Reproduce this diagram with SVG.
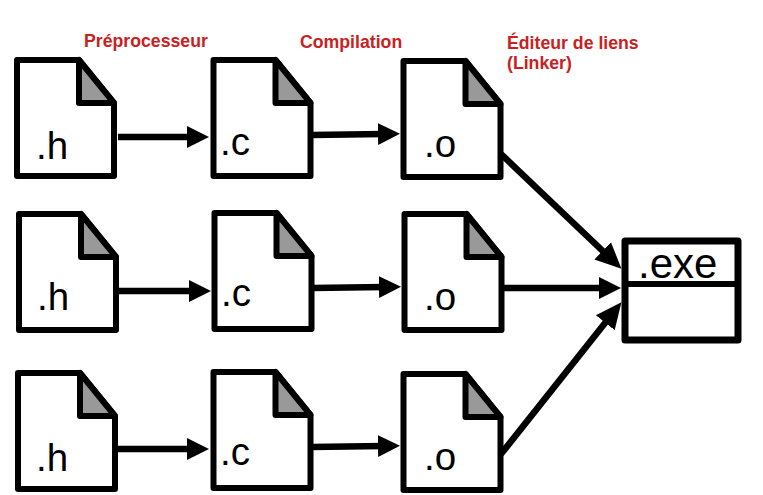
<svg xmlns="http://www.w3.org/2000/svg" width="763" height="495" viewBox="0 0 763 495">
<style>
.b{fill:#fff;stroke:#000;stroke-width:6;stroke-linejoin:round}
.f{fill:#999;stroke:#000;stroke-width:6;stroke-linejoin:round}
.t{font-family:"Liberation Sans",Arial,sans-serif;font-size:38.5px;fill:#000}
.x{font-size:42px}
.l{font-family:"Liberation Sans",Arial,sans-serif;font-size:17.7px;font-weight:bold;fill:#c9211e}
.c{fill:none;stroke:#000;stroke-width:6.5;marker-end:url(#a)}
.d{fill:none;stroke:#000;stroke-width:6.5;marker-end:url(#e)}
</style>
<defs>
<marker id="a" markerUnits="userSpaceOnUse" markerWidth="24" markerHeight="24" refX="6" refY="12" orient="auto"><path d="M0 1 L22 12 L0 23 Z" fill="#000"/></marker>
<marker id="e" markerUnits="userSpaceOnUse" markerWidth="28" markerHeight="28" refX="6" refY="14" orient="auto"><path d="M0 2 L26 14 L0 26 Z" fill="#000"/></marker>
<g id="doc"><path class="b" d="M0 0H62L97 43V116H0Z"/><path class="f" d="M62 0V43H97Z"/></g>
</defs>
<rect width="763" height="495" fill="#fff"/>
<g id="connectors">
<line class="c" x1="118" y1="137" x2="193" y2="137"/>
<line class="c" x1="311" y1="135" x2="384" y2="134"/>
<line class="c" x1="119" y1="291" x2="195" y2="291"/>
<line class="c" x1="312" y1="288" x2="385" y2="287"/>
<line class="c" x1="118" y1="449" x2="193" y2="449"/>
<line class="c" x1="311" y1="447" x2="384" y2="446"/>
<line class="d" x1="501" y1="154" x2="607" y2="255"/>
<line class="c" x1="504" y1="288" x2="605" y2="288"/>
<line class="d" x1="501" y1="454" x2="609" y2="318"/>
</g>
<g id="h1"><use href="#doc" x="17" y="60"/><text class="t" x="36" y="159">.h</text></g>
<g id="c1"><use href="#doc" x="213.500" y="60"/><text class="t" x="220" y="155">.c</text></g>
<g id="o1"><use href="#doc" x="403.500" y="61"/><text class="t" x="424" y="157">.o</text></g>
<g id="h2"><use href="#doc" x="19" y="214"/><text class="t" x="37" y="310">.h</text></g>
<g id="c2"><use href="#doc" x="214.500" y="213"/><text class="t" x="221" y="306">.c</text></g>
<g id="o2"><use href="#doc" x="404.500" y="214"/><text class="t" x="424" y="310">.o</text></g>
<g id="h3"><use href="#doc" x="18" y="373"/><text class="t" x="36" y="471">.h</text></g>
<g id="c3"><use href="#doc" x="213.500" y="372"/><text class="t" x="220" y="465">.c</text></g>
<g id="o3"><use href="#doc" x="403.500" y="374"/><text class="t" x="424" y="470">.o</text></g>
<g id="exe">
<rect x="625" y="241" width="113" height="99" fill="#fff" stroke="#000" stroke-width="7" stroke-linejoin="round"/>
<line x1="625" y1="284" x2="738" y2="284" stroke="#000" stroke-width="6"/>
<text class="t x" x="638" y="278">.exe</text>
</g>
<g id="labels">
<text class="l" x="84" y="47">Préprocesseur</text>
<text class="l" x="300" y="48">Compilation</text>
<text class="l" x="507" y="49">Éditeur de liens</text>
<text class="l" x="507" y="69">(Linker)</text>
</g>
</svg>
